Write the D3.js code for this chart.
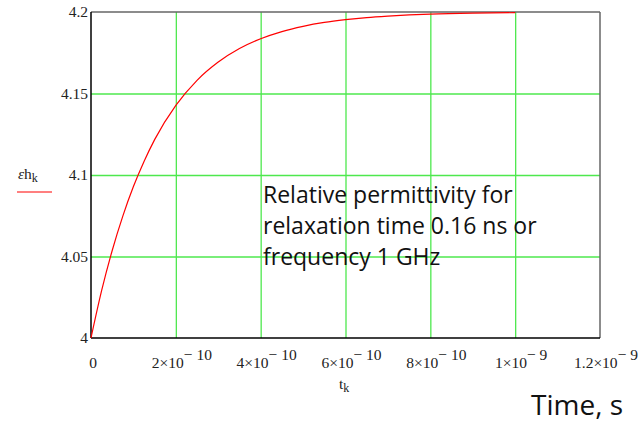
<!DOCTYPE html>
<html>
<head>
<meta charset="utf-8">
<script src="https://cdn.jsdelivr.net/npm/d3@7"></script>
<style>
  body { margin: 0; background: #fff; }
  svg { display: block; }
  .serif { font-family: "Liberation Serif", "DejaVu Serif", serif; fill: #222; }
  .note { font-family: "Open Sans", "Noto Sans", sans-serif; fill: #111; }
</style>
</head>
<body>
<svg id="chart" width="640" height="422"></svg>
<script>
// time in seconds, permittivity
const times = [0, 0.25e-10, 0.5e-10, 0.75e-10, 1e-10, 1.25e-10, 1.5e-10, 2e-10, 2.5e-10, 3e-10, 3.5e-10,
  4e-10, 4.5e-10, 5e-10, 5.5e-10, 6e-10, 6.5e-10, 7e-10, 7.5e-10, 8e-10, 9e-10, 1e-9];
const epsValues = [4.0000, 4.0290, 4.0537, 4.0748, 4.0929, 4.1083, 4.1217, 4.1427, 4.1581, 4.1693, 4.1776,
  4.1836, 4.1880, 4.1912, 4.1936, 4.1953, 4.1966, 4.1975, 4.1982, 4.1987, 4.1993, 4.1996];

const xTicks = [0, 2e-10, 4e-10, 6e-10, 8e-10, 1e-9, 1.2e-9];
const xTickBase = ["0", "2×10", "4×10", "6×10", "8×10", "1×10", "1.2×10"];
const xTickExp = ["", "− 10", "− 10", "− 10", "− 10", "− 9", "− 9"];
const yTicks = [4, 4.05, 4.1, 4.15, 4.2];
const yTickLabels = ["4", "4.05", "4.1", "4.15", "4.2"];

const svg = d3.select("#chart");
const margin = { top: 12, left: 91 };
const width = 509;
const height = 326;

const x = d3.scaleLinear().domain([0, 1.2e-9]).range([0, width]);
const y = d3.scaleLinear().domain([4, 4.2]).range([height, 0]);

const g = svg.append("g")
  .attr("transform", `translate(${margin.left}, ${margin.top})`);

// green grid
g.append("g")
  .attr("transform", `translate(0, ${height})`)
  .call(d3.axisBottom(x).tickValues(xTicks.slice(1, -1)).tickSize(-height).tickFormat(""))
  .call(a => a.select(".domain").remove())
  .selectAll("line").attr("stroke", "#4ee84e").attr("stroke-width", 1.3);

g.append("g")
  .call(d3.axisLeft(y).tickValues(yTicks.slice(1, -1)).tickSize(-width).tickFormat(""))
  .call(a => a.select(".domain").remove())
  .selectAll("line").attr("stroke", "#4ee84e").attr("stroke-width", 1.3);

// frame
g.append("line").attr("x1", 0).attr("x2", width).attr("y1", 0).attr("y2", 0)
  .attr("stroke", "#666").attr("stroke-width", 1.5);
g.append("line").attr("x1", width).attr("x2", width).attr("y1", 0).attr("y2", height)
  .attr("stroke", "#666").attr("stroke-width", 1.5);
g.append("line").attr("x1", 0).attr("x2", 0).attr("y1", 0).attr("y2", height)
  .attr("stroke", "#000").attr("stroke-width", 1.5);
g.append("line").attr("x1", 0).attr("x2", width).attr("y1", height).attr("y2", height)
  .attr("stroke", "#000").attr("stroke-width", 1.5);

// curve
const line = d3.line()
  .x((d, i) => x(times[i]))
  .y(d => y(d))
  .curve(d3.curveMonotoneX);

g.append("path")
  .datum(epsValues)
  .attr("fill", "none")
  .attr("stroke", "#ff0000")
  .attr("stroke-width", 1.2)
  .attr("d", line);

// y tick labels
g.selectAll(".ylab")
  .data(yTicks)
  .join("text")
  .attr("class", "serif")
  .attr("x", -3)
  .attr("y", d => y(d) + 5)
  .attr("text-anchor", "end")
  .attr("font-size", 15.5)
  .text((d, i) => yTickLabels[i]);

// x tick labels with superscripts
const xl = g.selectAll(".xlab")
  .data(xTicks)
  .join("text")
  .attr("class", "serif")
  .attr("x", d => x(d) + (d ? 6 : 2))
  .attr("y", height + 30)
  .attr("text-anchor", "middle")
  .attr("font-size", 15.5);
xl.append("tspan").text((d, i) => xTickBase[i]);
xl.append("tspan").attr("dy", -8).text((d, i) => xTickExp[i]);

// axis names
const tk = svg.append("text").attr("class", "serif")
  .attr("x", 339).attr("y", 389).attr("font-size", 15.5);
tk.append("tspan").text("t");
tk.append("tspan").attr("dy", 3).attr("font-size", 12).text("k");

const eh = svg.append("text").attr("class", "serif")
  .attr("x", 18).attr("y", 179).attr("font-size", 15.5);
eh.append("tspan").attr("font-style", "italic").text("ε");
eh.append("tspan").text("h");
eh.append("tspan").attr("dy", 3).attr("font-size", 12).text("k");
svg.append("line").attr("x1", 17).attr("x2", 52).attr("y1", 192).attr("y2", 192)
  .attr("stroke", "#ff0000").attr("stroke-width", 1.2);

svg.append("text").attr("class", "note")
  .attr("x", 531).attr("y", 415).attr("font-size", 28).text("Time, s");

const note = ["Relative permittivity for", "relaxation time 0.16 ns or", "frequency 1 GHz"];
svg.append("g").selectAll("text")
  .data(note)
  .join("text")
  .attr("class", "note")
  .attr("x", 263)
  .attr("y", (d, i) => 203 + i * 31)
  .attr("font-size", 23)
  .text(d => d);
</script>
</body>
</html>
